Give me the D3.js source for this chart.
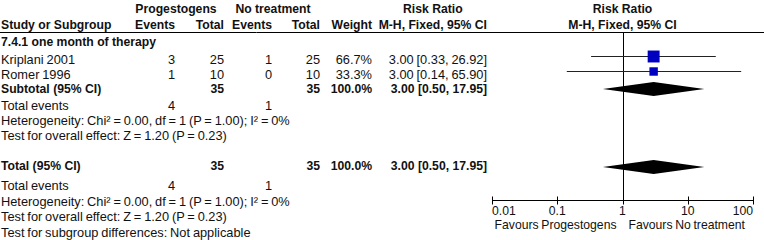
<!DOCTYPE html>
<html>
<head>
<meta charset="utf-8">
<script src="https://cdn.jsdelivr.net/npm/d3@7"></script>
<style>
  body { margin: 0; background: #fff; }
  svg text { font-family: "Liberation Sans", Arial, sans-serif; fill: #111; }
</style>
</head>
<body>
<div id="chart-area"></div>
<script>
// data
var studies = ["Kriplani 2001", "Romer 1996"];
var eventsP = [3, 1];
var totalP = [25, 10];
var eventsN = [1, 0];
var totalN = [25, 10];
var weights = [66.7, 33.3];
var rr = [3.00, 3.00];
var lower = [0.33, 0.14];
var upper = [26.92, 65.90];

var subgroupName = "7.4.1 one month of therapy";
var subEventsP = 4, subEventsN = 1, subTotalP = 35, subTotalN = 35;
var subRR = [3.00, 0.50, 17.95];
var allEventsP = 4, allEventsN = 1, allTotalP = 35, allTotalN = 35;
var allRR = [3.00, 0.50, 17.95];

var hetText = "Heterogeneity: Chi\u00b2 = 0.00, df = 1 (P = 1.00); I\u00b2 = 0%";
var overallText = "Test for overall effect: Z = 1.20 (P = 0.23)";
var subgroupDiffText = "Test for subgroup differences: Not applicable";

var tickValues = [0.01, 0.1, 1, 10, 100];
var tickLabels = ["0.01", "0.1", "1", "10", "100"];
var favoursLeft = "Favours Progestogens";
var favoursRight = "Favours No treatment";

var W = 764, H = 240;

var svg = d3.select("#chart-area").append("svg")
    .attr("width", W)
    .attr("height", H);

// column right edges
var col = {study: 1, evP: 175, totP: 224, evN: 272, totN: 320, wt: 372, ci: 487};
// row centres
var row = {h1: 9, h2: 24.5, line: 32.5, group: 42, s0: 59.5, s1: 74.5, sub: 89,
    te1: 106, het1: 121, ov1: 136, tot: 165.5, te2: 186, het2: 202, ov2: 217, sgd: 232.5};

var x = d3.scaleLog()
    .domain([0.01, 100])
    .range([492, 753]);

var side = d3.scaleSqrt()
    .domain([0, 100])
    .range([0, 14.6]);

function txt(s, xx, yy, anchor, bold, size) {
    return svg.append("text")
        .attr("x", xx)
        .attr("y", yy)
        .attr("dy", "0.35em")
        .attr("text-anchor", anchor || "start")
        .attr("font-size", size || (bold ? 12.2 : 12.8))
        .attr("word-spacing", bold ? 0 : -0.7)
        .attr("font-weight", bold ? "bold" : "normal")
        .text(s);
}
function fmt(v) { return d3.format(".2f")(v); }
function ciText(a) { return fmt(a[0]) + " [" + fmt(a[1]) + ", " + fmt(a[2]) + "]"; }

// header
txt("Progestogens", col.evP + 1, row.h1, "middle", true);
txt("No treatment", col.evN + 1, row.h1, "middle", true);
txt("Study or Subgroup", col.study, row.h2, "start", true);
txt("Events", col.evP, row.h2, "end", true);
txt("Total", col.totP, row.h2, "end", true);
txt("Events", col.evN, row.h2, "end", true);
txt("Total", col.totN, row.h2, "end", true);
txt("Weight", col.wt, row.h2, "end", true);
var mh = txt("M-H, Fixed, 95% CI", col.ci, row.h2, "end", true);
var mhw = mh.node().getComputedTextLength();
txt("Risk Ratio", col.ci - mhw / 2, row.h1, "middle", true);
txt("Risk Ratio", x(1), row.h1, "middle", true);
txt("M-H, Fixed, 95% CI", x(1), row.h2, "middle", true);

svg.append("line")
    .attr("x1", 0).attr("x2", W)
    .attr("y1", row.line).attr("y2", row.line)
    .attr("stroke", "#000");

txt(subgroupName, col.study, row.group, "start", true);

// study rows
var rowsY = [row.s0, row.s1];
studies.forEach(function(s, i) {
    var y = rowsY[i];
    txt(s, col.study, y, "start", false);
    txt(eventsP[i], col.evP, y, "end", false);
    txt(totalP[i], col.totP, y, "end", false);
    txt(eventsN[i], col.evN, y, "end", false);
    txt(totalN[i], col.totN, y, "end", false);
    txt(d3.format(".1f")(weights[i]) + "%", col.wt, y, "end", false);
    txt(ciText([rr[i], lower[i], upper[i]]), col.ci, y, "end", false);
});

// subtotal block
txt("Subtotal (95% CI)", col.study, row.sub, "start", true);
txt(subTotalP, col.totP, row.sub, "end", true);
txt(subTotalN, col.totN, row.sub, "end", true);
txt("100.0%", col.wt, row.sub, "end", true);
txt(ciText(subRR), col.ci, row.sub, "end", true);
txt("Total events", col.study, row.te1, "start", false);
txt(subEventsP, col.evP, row.te1, "end", false);
txt(subEventsN, col.evN, row.te1, "end", false);
txt(hetText, col.study, row.het1, "start", false);
txt(overallText, col.study, row.ov1, "start", false);

// overall block
txt("Total (95% CI)", col.study, row.tot, "start", true);
txt(allTotalP, col.totP, row.tot, "end", true);
txt(allTotalN, col.totN, row.tot, "end", true);
txt("100.0%", col.wt, row.tot, "end", true);
txt(ciText(allRR), col.ci, row.tot, "end", true);
txt("Total events", col.study, row.te2, "start", false);
txt(allEventsP, col.evP, row.te2, "end", false);
txt(allEventsN, col.evN, row.te2, "end", false);
txt(hetText, col.study, row.het2, "start", false);
txt(overallText, col.study, row.ov2, "start", false);
txt(subgroupDiffText, col.study, row.sgd, "start", false);

// plot
var axisY = 200.5;
svg.append("line")
    .attr("x1", Math.round(x(1)) + 0.5).attr("x2", Math.round(x(1)) + 0.5)
    .attr("y1", row.line).attr("y2", axisY)
    .attr("stroke", "#000");

// markers sit a little above the text centre, as in the picture
var markY = rowsY.map(function(y) { return y - 3.5; });
var marks = svg.append("g");
marks.selectAll("line.ci")
    .data(studies)
    .enter().append("line")
        .attr("class", "ci")
        .attr("x1", function(d, i) { return x(lower[i]); })
        .attr("x2", function(d, i) { return x(upper[i]); })
        .attr("y1", function(d, i) { return Math.round(markY[i]) + 0.5; })
        .attr("y2", function(d, i) { return Math.round(markY[i]) + 0.5; })
        .attr("stroke", "#222");
marks.selectAll("rect")
    .data(studies)
    .enter().append("rect")
        .attr("x", function(d, i) { return x(rr[i]) - side(weights[i]) / 2; })
        .attr("y", function(d, i) { return markY[i] - side(weights[i]) / 2 + 0.5; })
        .attr("width", function(d, i) { return side(weights[i]); })
        .attr("height", function(d, i) { return side(weights[i]); })
        .attr("fill", "#0000c0");

function diamond(a, y) {
    var h = 7;
    svg.append("path")
        .attr("d", "M" + x(a[1]) + "," + y + "L" + x(a[0]) + "," + (y - h) +
            "L" + x(a[2]) + "," + y + "L" + x(a[0]) + "," + (y + h) + "Z")
        .attr("fill", "#000");
}
diamond(subRR, row.sub);
diamond(allRR, row.tot + 1.5);

// axis
var axis = svg.append("g").attr("transform", "translate(0," + axisY + ")");
axis.append("line")
    .attr("x1", x(0.01)).attr("x2", x(100))
    .attr("stroke", "#000");
axis.selectAll("line.tick")
    .data(tickValues)
    .enter().append("line")
        .attr("class", "tick")
        .attr("x1", function(d) { return Math.round(x(d)) + 0.5; })
        .attr("x2", function(d) { return Math.round(x(d)) + 0.5; })
        .attr("y1", -4).attr("y2", 4)
        .attr("stroke", "#000");
tickValues.forEach(function(d, i) {
    var anchor = i === 0 ? "start" : (i === tickValues.length - 1 ? "end" : "middle");
    txt(tickLabels[i], x(d), 211, anchor, false, 12.2);
});
txt(favoursLeft, x(1) - 6, 225, "end", false, 12.2);
txt(favoursRight, x(1) + 6, 225, "start", false, 12.2);
</script>
</body>
</html>
